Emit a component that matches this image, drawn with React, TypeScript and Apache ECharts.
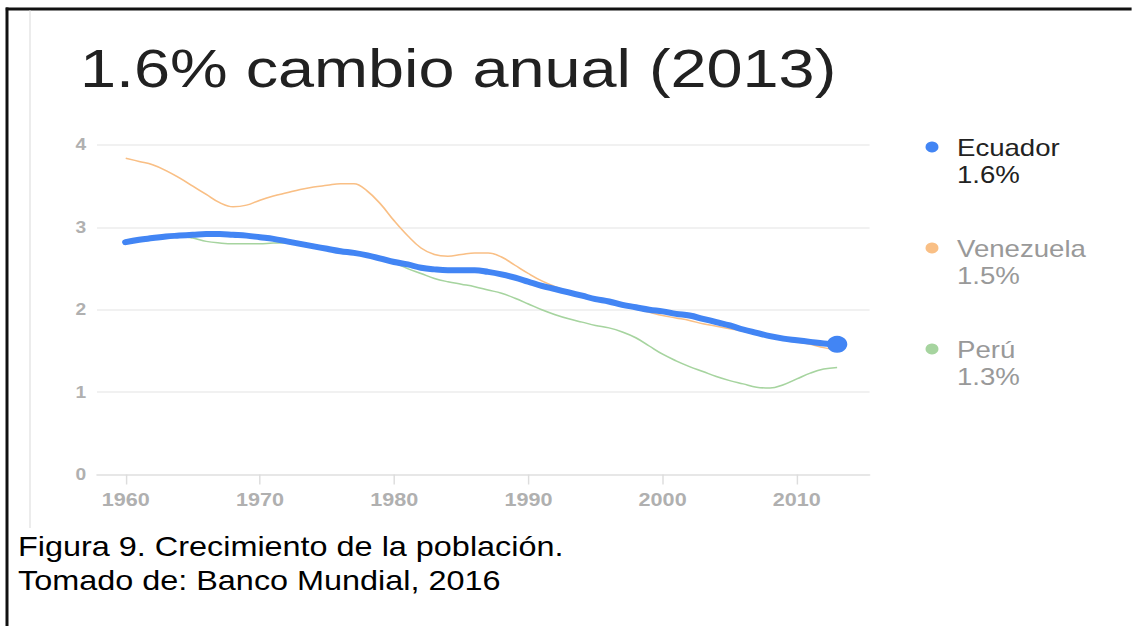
import React, { useEffect, useRef } from "react";
import * as echarts from "echarts";

const years = [
  1960, 1961, 1962, 1963, 1964, 1965, 1966, 1967, 1968, 1969,
  1970, 1971, 1972, 1973, 1974, 1975, 1976, 1977, 1978, 1979,
  1980, 1981, 1982, 1983, 1984, 1985, 1986, 1987, 1988, 1989,
  1990, 1991, 1992, 1993, 1994, 1995, 1996, 1997, 1998, 1999,
  2000, 2001, 2002, 2003, 2004, 2005, 2006, 2007, 2008, 2009,
  2010, 2011, 2012, 2013,
];

const ecuador = [
  2.82, 2.85, 2.87, 2.89, 2.9, 2.91, 2.92, 2.92, 2.91, 2.9,
  2.88, 2.86, 2.83, 2.8, 2.77, 2.74, 2.71, 2.69, 2.66, 2.62,
  2.58, 2.55, 2.51, 2.49, 2.48, 2.48, 2.48, 2.46, 2.43, 2.39,
  2.34, 2.29, 2.25, 2.21, 2.17, 2.13, 2.1, 2.06, 2.03, 2.0,
  1.98, 1.95, 1.93, 1.89, 1.85, 1.81, 1.76, 1.72, 1.68, 1.65,
  1.63, 1.61, 1.59, 1.58,
];

const venezuela = [
  3.84, 3.8, 3.76, 3.69, 3.6, 3.5, 3.4, 3.3, 3.25, 3.27,
  3.33, 3.38, 3.42, 3.46, 3.49, 3.51, 3.53, 3.53, 3.44, 3.28,
  3.08, 2.9, 2.75, 2.67, 2.65, 2.67, 2.69, 2.69, 2.64, 2.54,
  2.44, 2.35, 2.28, 2.22, 2.17, 2.13, 2.09, 2.05, 2.01, 1.97,
  1.93, 1.9, 1.87, 1.83, 1.8, 1.77, 1.74, 1.7, 1.67, 1.64,
  1.61, 1.58, 1.54, 1.51,
];

const peru = [
  2.82, 2.85, 2.87, 2.89, 2.89, 2.87, 2.83, 2.81, 2.8, 2.8,
  2.8, 2.81, 2.81, 2.79, 2.77, 2.75, 2.73, 2.71, 2.68, 2.64,
  2.57, 2.5, 2.44, 2.38, 2.34, 2.31, 2.28, 2.24, 2.2, 2.14,
  2.07, 2.0, 1.94, 1.89, 1.85, 1.81, 1.78, 1.73, 1.66, 1.56,
  1.46, 1.38, 1.31, 1.25, 1.19, 1.14, 1.1, 1.06, 1.05, 1.09,
  1.16, 1.23, 1.28, 1.3,
];

const tickYears = [1960, 1970, 1980, 1990, 2000, 2010];
const countries = ["Ecuador", "Venezuela", "Perú"];
const latestValues = ["1.6%", "1.5%", "1.3%"];
const colors = ["#4285f4", "#f9bf85", "#a6d49f"];
const legendTextColors = ["#222222", "#999999", "#999999"];
const titleText = "1.6% cambio anual (2013)";
const captionLines = [
  "Figura 9. Crecimiento de la población.",
  "Tomado de: Banco Mundial, 2016",
];

const S = 1.2; // horizontal stretch of the original picture
const W = 1132 / S;
const H = 626;
const FONT = "'Liberation Sans', Arial, sans-serif";

export default function App() {
  const ref = useRef<HTMLDivElement>(null);

  useEffect(() => {
    if (!ref.current) return;
    const chart = echarts.init(ref.current, undefined, { renderer: "svg" });
    const last = years.length - 1;
    const legendY = [147, 248, 349];

    const graphic: any[] = [
      // frame
      { type: "line", shape: { x1: 7 / S - 1, y1: 9, x2: W + 5, y2: 9 }, style: { stroke: "#111", lineWidth: 3 }, silent: true },
      { type: "line", shape: { x1: 7 / S, y1: 7.5, x2: 7 / S, y2: H }, style: { stroke: "#111", lineWidth: 3 / S }, silent: true },
      // faint left edge of the screenshot
      { type: "line", shape: { x1: 30 / S, y1: 10.5, x2: 30 / S, y2: 528 }, style: { stroke: "#e6e6e6", lineWidth: 1.5 / S }, silent: true },
      // title
      {
        type: "text", x: 80 / S, y: 68.6, silent: true,
        style: { text: titleText, fontSize: 54, fontFamily: FONT, fill: "#212121", align: "left", verticalAlign: "middle", textAlign: "left", textVerticalAlign: "middle" },
      },
    ];

    countries.forEach((name, i) => {
      graphic.push({ type: "circle", silent: true, shape: { cx: 932 / S, cy: legendY[i], r: 5.4 }, style: { fill: colors[i] } });
      graphic.push({
        type: "text", x: 957 / S, y: legendY[i] + 1, silent: true,
        style: { text: name, fontSize: 23, fontFamily: FONT, fill: legendTextColors[i], align: "left", verticalAlign: "middle", textAlign: "left", textVerticalAlign: "middle" },
      });
      graphic.push({
        type: "text", x: 957 / S, y: legendY[i] + 28, silent: true,
        style: { text: latestValues[i], fontSize: 23, fontFamily: FONT, fill: legendTextColors[i], align: "left", verticalAlign: "middle", textAlign: "left", textVerticalAlign: "middle" },
      });
    });

    captionLines.forEach((line, i) => {
      graphic.push({
        type: "text", x: 18 / S, y: 546 + i * 34, silent: true,
        style: { text: line, fontSize: 27, fontFamily: FONT, fill: "#000", align: "left", verticalAlign: "middle", textAlign: "left", textVerticalAlign: "middle" },
      });
    });

    const toPairs = (arr: number[]) => years.map((y, i) => [y, arr[i]]);

    chart.setOption({
      animation: false,
      backgroundColor: "#ffffff",
      grid: { left: 97 / S, right: W - 870 / S, top: 145, bottom: H - 474.5, containLabel: false },
      xAxis: {
        type: "value",
        min: 1957.86,
        max: 2015.42,
        axisLine: { show: true, lineStyle: { color: "#e3e3e3", width: 1.5 } },
        axisTick: { show: true, length: 10, customValues: tickYears, lineStyle: { color: "#dddddd", width: 1.2 } },
        axisLabel: {
          customValues: tickYears,
          formatter: (v: number) => String(v),
          color: "#b0b0b0",
          fontSize: 18,
          fontWeight: "bold",
          fontFamily: FONT,
          margin: 16,
        },
        splitLine: { show: false },
      },
      yAxis: {
        type: "value",
        min: 0,
        max: 4,
        interval: 1,
        axisLine: { show: false },
        axisTick: { show: false },
        axisLabel: { color: "#b0b0b0", fontSize: 16, fontWeight: "bold", fontFamily: FONT, margin: 9 },
        splitLine: { show: true, lineStyle: { color: "#ececec", width: 1.5 } },
      },
      graphic,
      series: [
        {
          type: "line", name: countries[2], data: toPairs(peru), smooth: 0.4, symbol: "none",
          lineStyle: { color: colors[2], width: 1.5 }, z: 2,
        },
        {
          type: "line", name: countries[1], data: toPairs(venezuela), smooth: 0.4, symbol: "none",
          lineStyle: { color: colors[1], width: 1.5 }, z: 3,
        },
        {
          type: "line", name: countries[0], data: toPairs(ecuador), smooth: 0.4, symbol: "none",
          lineStyle: { color: colors[0], width: 6, cap: "round", join: "round" }, z: 4,
        },
        {
          type: "scatter", name: countries[0] + " 2013", data: [[years[last], ecuador[last]]],
          symbol: "circle", symbolSize: 17, itemStyle: { color: colors[0], opacity: 1 }, z: 5,
        },
      ],
    });

    return () => chart.dispose();
  }, []);

  return (
    <div style={{ position: "fixed", left: 0, top: 0, width: 1132, height: 626, overflow: "hidden", background: "#fff" }}>
      <div
        ref={ref}
        style={{ width: W, height: H, transform: `scaleX(${S})`, transformOrigin: "0 0" }}
      />
    </div>
  );
}
